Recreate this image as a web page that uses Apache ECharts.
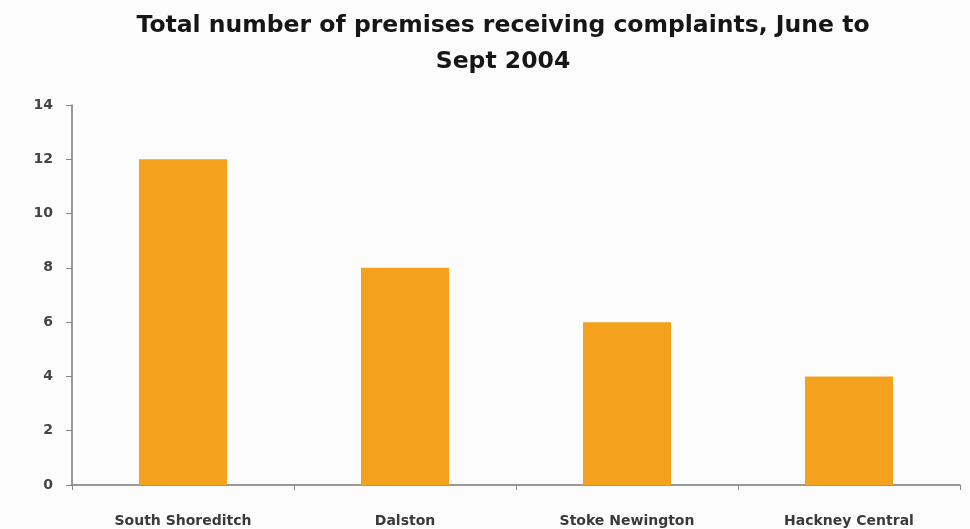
<!DOCTYPE html>
<html>
<head>
<meta charset="utf-8">
<script src="https://cdn.jsdelivr.net/npm/echarts@6/dist/echarts.min.js"></script>
<style>
  html, body { margin: 0; padding: 0; background: #fcfcfc; }
  #chart { width: 970px; height: 529px; }
</style>
</head>
<body>
<div id="chart"></div>
<script>
// Premises receiving complaints by area, June to Sept 2004
const categories = ['South Shoreditch', 'Dalston', 'Stoke Newington', 'Hackney Central'];
const premises = [12, 8, 6, 4];
const yTicks = [0, 2, 4, 6, 8, 10, 12, 14];
const titleText = 'Total number of premises receiving complaints, June to\nSept 2004';

const chart = echarts.init(document.getElementById('chart'), null, { renderer: 'canvas' });

chart.setOption({
  backgroundColor: '#fcfcfc',
  animation: false,
  // two-line heading, centred slightly right of the canvas middle
  graphic: [{
    type: 'text',
    x: 503,
    y: 8,
    style: {
      text: titleText,
      align: 'center',
      verticalAlign: 'top',
      fontFamily: '"DejaVu Sans"',
      fontWeight: 'bold',
      fontSize: 23.5,
      lineHeight: 36,
      fill: '#161616'
    }
  }],
  grid: { left: 72, right: 10, top: 105, bottom: 44 },
  xAxis: {
    type: 'category',
    data: categories,
    axisLine: { lineStyle: { color: '#777', width: 1.5 } },
    axisTick: { show: true, length: 5, lineStyle: { color: '#888' } },
    axisLabel: {
      margin: 29,
      fontFamily: '"DejaVu Sans"',
      fontWeight: 'bold',
      fontSize: 14,
      color: '#3a3a3a'
    }
  },
  yAxis: {
    type: 'value',
    min: yTicks[0],
    max: yTicks[yTicks.length - 1],
    interval: 2,
    splitLine: { show: false },
    axisLine: { show: true, lineStyle: { color: '#777', width: 1.5 } },
    axisTick: { show: true, length: 6, lineStyle: { color: '#888' } },
    axisLabel: {
      margin: 19,
      fontFamily: '"DejaVu Sans"',
      fontWeight: 'bold',
      fontSize: 14,
      color: '#444'
    }
  },
  series: [{
    type: 'bar',
    data: premises,
    barWidth: 88,
    itemStyle: { color: '#f4a21d' }
  }]
});
</script>
</body>
</html>
